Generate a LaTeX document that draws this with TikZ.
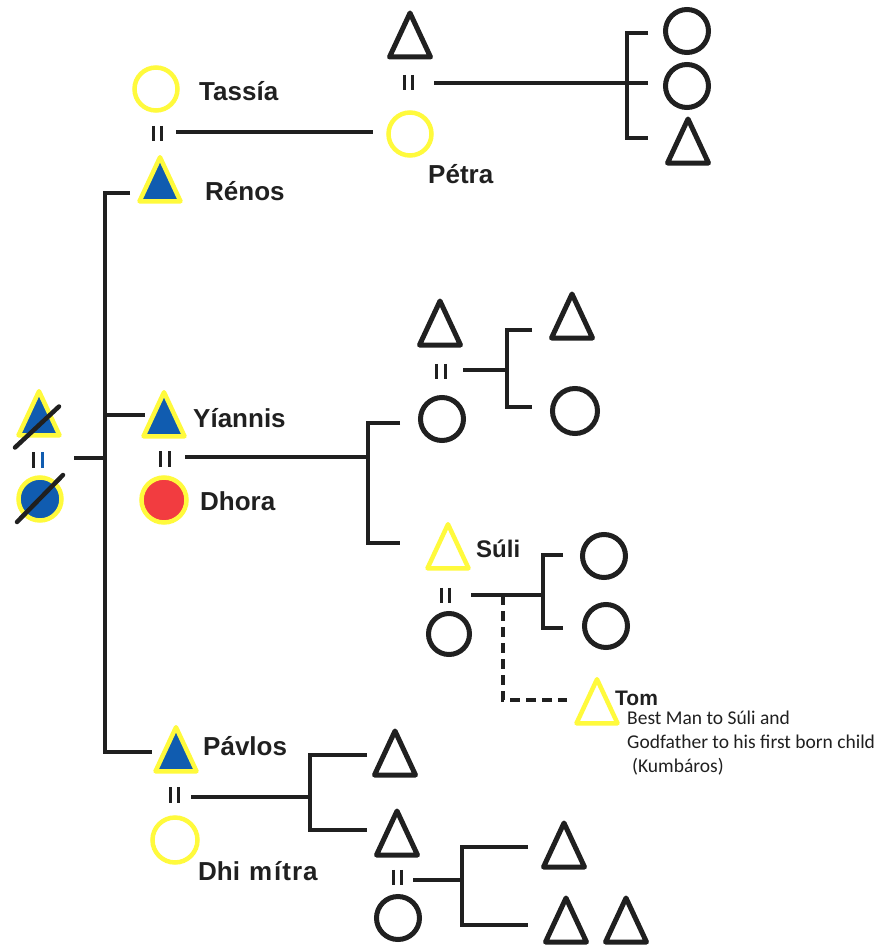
\documentclass[tikz,border=0pt]{standalone}
\usepackage{fontspec}
\setmainfont{Liberation Sans}
\newfontfamily\notefont{Carlito}
\usetikzlibrary{shapes.geometric}

\definecolor{ink}{RGB}{32,32,32}
\definecolor{glow}{RGB}{255,250,60}
\definecolor{royal}{RGB}{16,92,176}
\definecolor{scarlet}{RGB}{242,60,64}

\tikzset{
  male/.style={isosceles triangle, isosceles triangle stretches,
    shape border rotate=90, minimum width=41, minimum height=44,
    inner sep=0, anchor=lower side, draw=ink, line width=5,
    line join=round, fill=white},
  female/.style={circle, minimum size=43, inner sep=0, draw=ink,
    line width=5, fill=white},
  kin/.style={draw=glow, line width=4.5},
  link/.style={draw=ink, line width=4},
  wedbar/.style={draw=ink, line width=3},
  strike/.style={draw=ink, line width=4.5, line cap=round},
  godlink/.style={draw=ink, line width=3.5, dash pattern=on 10 off 6},
  wedbox/.style={inner sep=0, minimum width=8, minimum height=15},
  tag/.style={anchor=base west, inner sep=0, text=ink,
    font=\bfseries\fontsize{26}{30}\selectfont},
  remark/.style={anchor=north west, inner sep=0, text=ink, align=left,
    font=\notefont\fontsize{19.5}{24}\selectfont},
}

% marriage sign: two short upright bars
\newcommand\wedsign[4][ink]{%
  \node[wedbox] (#2) at (#3,#4) {};
  \draw[wedbar] (#2.north west) -- (#2.south west);
  \draw[wedbar, draw=#1] (#2.north east) -- (#2.south east);}

\begin{document}
\begin{tikzpicture}[x=1pt, y=-1pt]
\fill[white] (0,0) rectangle (878,950);
\useasboundingbox (0,0) rectangle (878,950);

% ---- founding couple (both deceased)
\node[male, fill=royal, kin] (gpa) at (39,437.5) {};
\node[female, fill=royal, kin] (gma) at (40,499) {};
\draw[strike] ([shift={(-24,10)}]gpa.lower side) -- ([shift={(20,-31)}]gpa.lower side);
\draw[strike] ([shift={(-23,23)}]gma.center) -- ([shift={(23,-24)}]gma.center);
\wedsign[royal]{wedG}{38}{460}

\coordinate (pl) at (74,458);
\coordinate (s0) at (105,458);
\coordinate (s1) at (105,193);
\coordinate (s2) at (105,415);
\coordinate (s3) at (105,752);
\coordinate (t1) at (130,193);
\coordinate (t2) at (145,415);
\coordinate (t3) at (152,752);
\draw[link] (t1) -- (s1) -- (s3) -- (t3);
\draw[link] (s2) -- (t2);
\draw[link] (pl) -- (s0);

% ---- Renos and Tassia
\node[female, kin] (tassia) at (156,89) {};
\node[male, fill=royal, kin] (renos) at (160,203.5) {};
\wedsign{wedR}{157.5}{133.5}
\node[tag] (lTassia) at (199,100) {Tassía};
\node[tag] (lRenos) at (205,200) {Rénos};

\coordinate (rA) at (176,132);
\coordinate (rB) at (373,132);
\draw[link] (rA) -- (rB);

\node[female, kin] (petra) at (410,134) {};
\node[tag] (lPetra) at (428,183) {Pétra};
\node[male] (phus) at (410,59.5) {};
\wedsign{wedP}{408.5}{82.5}

\coordinate (pA) at (434,83);
\coordinate (pJ) at (627,83);
\coordinate (pT) at (627,33);
\coordinate (pB) at (627,138);
\draw[link] (pA) -- (pJ);
\draw[link] (648,33) -- (pT) -- (pB) -- (648,138);
\draw[link] (pJ) -- (648,83);
\node[female] (pk1) at (687,31) {};
\node[female] (pk2) at (687,86) {};
\node[male] (pk3) at (688,165.5) {};

% ---- Yiannis and Dhora
\node[male, fill=royal, kin] (yiannis) at (164,438.5) {};
\node[female, fill=scarlet, kin, minimum size=45] (dhora) at (164,500) {};
\wedsign{wedY}{165}{459}
\node[tag] (lYiannis) at (193,427) {Yíannis};
\node[tag] (lDhora) at (200,510) {Dhora};

\coordinate (yA) at (185,457);
\coordinate (yJ) at (368,457);
\draw[link] (yA) -- (yJ);
\draw[link] (400,423) -- (368,423) -- (368,543) -- (400,543);

% daughter and her family
\node[female] (ydau) at (442,419) {};
\node[male] (dhus) at (440,347.5) {};
\wedsign{wedD}{441}{371.5}
\coordinate (dA) at (463,370);
\coordinate (dJ) at (507,370);
\draw[link] (dA) -- (dJ);
\draw[link] (532,330) -- (507,330) -- (507,407) -- (532,407);
\node[male] (dk1) at (572,340.5) {};
\node[female, minimum size=45] (dk2) at (575,411) {};

% son Suli and his family
\node[male, kin] (suli) at (448,570.5) {};
\node[tag, font=\bfseries\fontsize{24}{28}\selectfont] (lSuli) at (476,557) {Súli};
\wedsign{wedS}{445.5}{595.5}
\node[female, minimum size=41] (swife) at (449,634) {};
\coordinate (sA) at (471,595);
\coordinate (sD) at (503,595);
\coordinate (sJ) at (543,595);
\draw[link] (sA) -- (sJ);
\draw[link] (563,555) -- (543,555) -- (543,628) -- (563,628);
\node[female] (sk1) at (604,556) {};
\node[female] (sk2) at (606,626) {};

% Tom, the kumbaros
\coordinate (gC) at (503,700);
\coordinate (gE) at (567,700);
\draw[godlink] (sD) -- (gC) -- (gE);
\node[male, kin] (tom) at (597,725.5) {};
\node[tag, font=\bfseries\fontsize{21}{24}\selectfont] (lTom) at (615,705) {Tom};
\node[remark] (lNote) at (627,711) {Best Man to Súli and\\Godfather to his first born child\\\hspace*{5pt}(Kumbáros)};

% ---- Pavlos and Dhimitra
\node[male, fill=royal, kin] (pavlos) at (176,773.5) {};
\node[female, kin, minimum size=45] (dhimitra) at (175,840) {};
\wedsign{wedV}{174.5}{795}
\node[tag] (lPavlos) at (203,755) {Pávlos};
\node[tag] (lDhimitra) at (198,880) {Dhi\hspace{9pt}m\hspace{2pt}í\hspace{1pt}t\hspace{1pt}r\hspace{1pt}a};

\coordinate (vA) at (191,797);
\coordinate (vJ) at (310,797);
\draw[link] (vA) -- (vJ);
\draw[link] (367,755) -- (310,755) -- (310,830) -- (367,830);
\node[male] (vk1) at (395,777.5) {};
\node[male] (vk2) at (397,857.5) {};
\wedsign{wedK}{397.5}{877.5}
\node[female] (kwife) at (398,918) {};
\coordinate (kA) at (413,880);
\coordinate (kJ) at (462,880);
\draw[link] (kA) -- (kJ);
\draw[link] (528,847) -- (462,847) -- (462,925) -- (528,925);
\node[male] (gk1) at (564,869.5) {};
\node[male] (gk2) at (566,944.5) {};
\node[male] (gk3) at (626,944.5) {};
\end{tikzpicture}
\end{document}
